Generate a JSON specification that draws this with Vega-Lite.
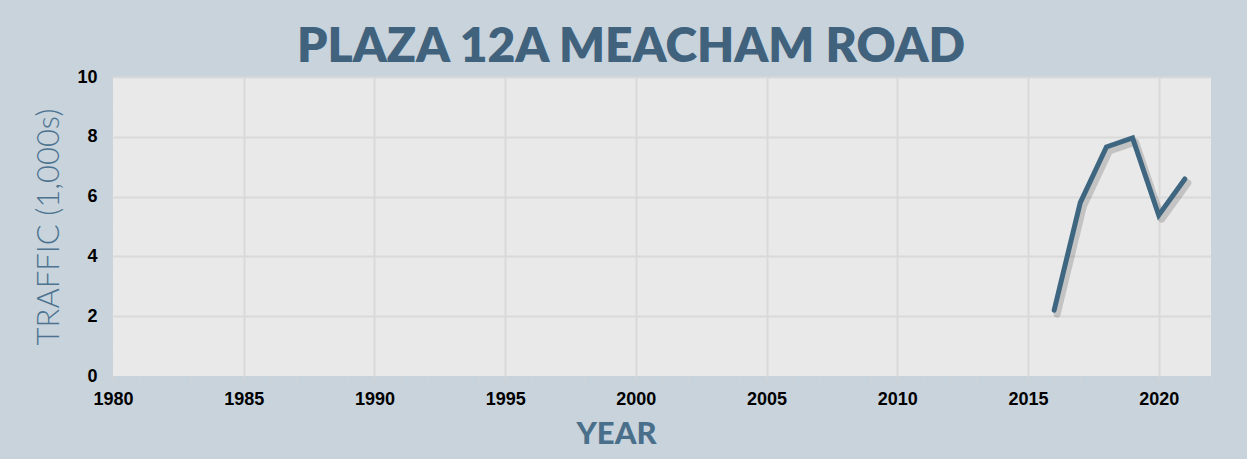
{
  "$schema": "https://vega.github.io/schema/vega-lite/v6.json",
  "width": 1098,
  "height": 299,
  "autosize": {"type": "none"},
  "padding": {"left": 113, "top": 77, "right": 36, "bottom": 83},
  "background": "#c8d3dc",
  "title": {
    "text": "PLAZA 12A MEACHAM ROAD",
    "anchor": "middle",
    "frame": "group",
    "dx": -31,
    "dy": 4,
    "offset": 0,
    "font": "Lato",
    "fontWeight": 800,
    "fontSize": 48,
    "color": "#41627c"
  },
  "data": {
    "values": [
      {"year": 2016, "traffic": 2.2},
      {"year": 2017, "traffic": 5.8},
      {"year": 2018, "traffic": 7.66},
      {"year": 2019, "traffic": 7.96},
      {"year": 2020, "traffic": 5.38},
      {"year": 2021, "traffic": 6.59}
    ]
  },
  "config": {
    "view": {"fill": "#e9e9e9", "stroke": null},
    "axis": {
      "domain": false,
      "gridColor": "#d9d9d9",
      "gridWidth": 2,
      "tickColor": "#d4d4d4",
      "tickSize": 4,
      "labelFont": "Liberation Sans",
      "labelFontWeight": "bold",
      "labelFontSize": 18,
      "labelColor": "#000000"
    }
  },
  "encoding": {
    "x": {
      "field": "year",
      "type": "quantitative",
      "scale": {"domain": [1980, 2022], "nice": false, "zero": false},
      "axis": {
        "title": "YEAR",
        "titleFont": "Lato",
        "titleFontWeight": 900,
        "titleFontSize": 31,
        "titleColor": "#4a6f8b",
        "titleX": 503,
        "titlePadding": 11,
        "labelPadding": 10,
        "values": [1980,1981,1982,1983,1984,1985,1986,1987,1988,1989,1990,1991,1992,1993,1994,1995,1996,1997,1998,1999,2000,2001,2002,2003,2004,2005,2006,2007,2008,2009,2010,2011,2012,2013,2014,2015,2016,2017,2018,2019,2020,2021,2022],
        "labelExpr": "datum.value % 5 === 0 ? datum.value + '' : ''",
        "gridOpacity": {"condition": {"test": "datum.value % 5 === 0 && datum.value > 1980", "value": 1}, "value": 0},
        "labelFlush": false,
        "labelOverlap": false
      }
    },
    "y": {
      "field": "traffic",
      "type": "quantitative",
      "scale": {"domain": [0, 10], "nice": false},
      "axis": {
        "title": "TRAFFIC (1,000s)",
        "titleFont": "Lato",
        "titleFontWeight": 300,
        "titleFontSize": 31,
        "titleColor": "#4d7390",
        "titlePadding": 11,
        "labelPadding": 12,
        "values": [0,0.4,0.8,1.2,1.6,2,2.4,2.8,3.2,3.6,4,4.4,4.8,5.2,5.6,6,6.4,6.8,7.2,7.6,8,8.4,8.8,9.2,9.6,10],
        "labelExpr": "datum.value % 2 === 0 ? datum.value + '' : ''",
        "gridOpacity": {"condition": {"test": "datum.value % 2 === 0 && datum.value > 0", "value": 1}, "value": 0},
        "labelOverlap": false
      }
    }
  },
  "layer": [
    {
      "mark": {"type": "line", "stroke": "#000000", "opacity": 0.16, "strokeWidth": 7, "strokeCap": "round", "strokeJoin": "round", "xOffset": 3, "yOffset": 4}
    },
    {
      "mark": {"type": "line", "stroke": "#3e6680", "strokeWidth": 5, "strokeCap": "round", "strokeJoin": "miter"}
    }
  ]
}
